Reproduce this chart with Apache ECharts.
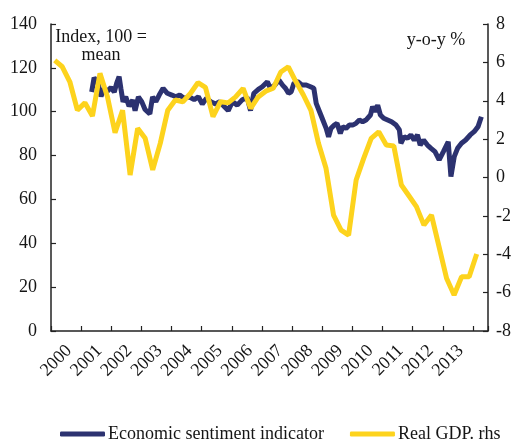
<!DOCTYPE html>
<html>
<head>
<meta charset="utf-8">
<script src="https://cdn.jsdelivr.net/npm/echarts@6/dist/echarts.min.js"></script>
<style>
  html, body { margin: 0; padding: 0; background: #fff; }
  #chart { width: 519px; height: 439px; }
</style>
</head>
<body>
<div id="chart"></div>
<script>
// Economic sentiment indicator (monthly), x in decimal years
const esiDates = [
  2001.35, 2001.43, 2001.55, 2001.66, 2001.76, 2001.88, 2001.99, 2002.10, 2002.18, 2002.26,
  2002.32, 2002.39, 2002.48, 2002.59, 2002.71, 2002.79, 2002.90, 2003.01, 2003.12, 2003.28,
  2003.37, 2003.48, 2003.59, 2003.72, 2003.86, 2004.01, 2004.14, 2004.27, 2004.41, 2004.58,
  2004.75, 2004.89, 2005.02, 2005.16, 2005.30, 2005.46, 2005.60, 2005.74, 2005.88, 2006.02,
  2006.18, 2006.35, 2006.51, 2006.62, 2006.73, 2006.88, 2007.01, 2007.18, 2007.28, 2007.43,
  2007.56, 2007.69, 2007.78, 2007.88, 2007.97, 2008.06, 2008.19, 2008.32, 2008.47, 2008.61,
  2008.72, 2008.80, 2008.91, 2009.02, 2009.13, 2009.21, 2009.29, 2009.40, 2009.49, 2009.60,
  2009.68, 2009.79, 2009.90, 2010.01, 2010.12, 2010.23, 2010.34, 2010.45, 2010.60, 2010.67,
  2010.75, 2010.84, 2010.93, 2011.04, 2011.17, 2011.30, 2011.45, 2011.56, 2011.61, 2011.72,
  2011.83, 2011.94, 2012.05, 2012.16, 2012.25, 2012.36, 2012.49, 2012.61, 2012.74, 2012.88,
  2013.02, 2013.18, 2013.27, 2013.38, 2013.49, 2013.62, 2013.76, 2013.91, 2014.04, 2014.17,
  2014.28
]
const esiValues = [
  109, 115.5, 113.5, 107, 110.5, 109.5, 111, 109, 113, 116,
  110.5, 104.5, 106.8, 102.5, 105.3, 100.5, 106.8, 104.6, 101, 99,
  106.8, 104.6, 107.6, 110.7, 108.4, 107.6, 106.8, 107.6, 106.1, 106.8,
  105.5, 106.8, 103.5, 106.1, 104.6, 103.5, 104.6, 102.5, 100.5, 104.6,
  103, 105.5, 106.5, 100.5, 108.4, 110.2, 111.4, 113.7, 110.7, 112.2,
  114.5, 112, 110.7, 108.4, 109.1, 113, 113.7, 112.2, 112.2, 111.4,
  110.7, 103.8, 100, 96.2, 92.4, 88.6, 92.4, 93.9, 94.7, 90.1,
  93.2, 92.4, 93.9, 93.9, 94.7, 96.2, 95.4, 96.2, 98.5, 102.3,
  100, 103, 98.5, 97, 96.2, 95.4, 93.9, 91.7, 85.6, 88.6,
  87.9, 89.4, 87.1, 89.4, 84.8, 87.1, 84.8, 83.3, 81.8, 78,
  81.8, 86.3, 70.4, 79.5, 83.3, 85.6, 87.1, 89.4, 90.9, 93.2,
  97.7
]

// Real GDP, y-o-y %, quarterly (right axis)
const gdpQuarters = [
  '2000 Q1', '2000 Q2', '2000 Q3', '2000 Q4', '2001 Q1', '2001 Q2', '2001 Q3', '2001 Q4',
  '2002 Q1', '2002 Q2', '2002 Q3', '2002 Q4', '2003 Q1', '2003 Q2', '2003 Q3', '2003 Q4',
  '2004 Q1', '2004 Q2', '2004 Q3', '2004 Q4', '2005 Q1', '2005 Q2', '2005 Q3', '2005 Q4',
  '2006 Q1', '2006 Q2', '2006 Q3', '2006 Q4', '2007 Q1', '2007 Q2', '2007 Q3', '2007 Q4',
  '2008 Q1', '2008 Q2', '2008 Q3', '2008 Q4', '2009 Q1', '2009 Q2', '2009 Q3', '2009 Q4',
  '2010 Q1', '2010 Q2', '2010 Q3', '2010 Q4', '2011 Q1', '2011 Q2', '2011 Q3', '2011 Q4',
  '2012 Q1', '2012 Q2', '2012 Q3', '2012 Q4', '2013 Q1', '2013 Q2', '2013 Q3', '2013 Q4',
  '2014 Q1'
]
const gdpValues = [
  6.1, 5.77, 4.99, 3.51, 3.89, 3.2, 5.43, 4.2,
  2.33, 3.5, 0.13, 2.56, 2.04, 0.4, 1.78, 3.51,
  4.04, 3.95, 4.38, 4.94, 4.7, 3.17, 3.95, 3.89,
  4.2, 4.65, 3.6, 4.2, 4.5, 4.65, 5.5, 5.77,
  5.0, 4.3, 3.5, 1.78, 0.48, -1.96, -2.74, -3.0,
  -0.13, 1.0, 2.04, 2.38, 1.69, 1.64, -0.39, -0.95,
  -1.52, -2.48, -1.96, -3.6, -5.25, -6.12, -5.17, -5.17,
  -3.99
]

const yearLabels = ['2000', '2001', '2002', '2003', '2004', '2005', '2006',
  '2007', '2008', '2009', '2010', '2011', '2012', '2013']

const navy = '#2c3270'
const yellow = '#fdd31d'
const font = 'Liberation Serif'
const ink = '#151515'
const labelShift = 0.6 // year labels sit a little right of their ticks

const quarterToYear = q => {
  const [y, n] = q.split(' Q')
  return +y + (n - 1) * 0.25 + 0.125
}

const chart = echarts.init(document.getElementById('chart'))

const axisLine = { show: true, lineStyle: { color: '#222', width: 1.5 } }
const axisTick = { show: true, inside: true, length: 5, lineStyle: { color: '#222', width: 1.2 } }

chart.setOption({
  animation: false,
  grid: { left: 51, right: 31, top: 24, bottom: 108 },
  xAxis: [
    {
      type: 'value',
      min: 2000,
      max: 2014.5,
      interval: 1,
      axisLine,
      axisTick,
      axisLabel: { show: false },
      splitLine: { show: false }
    },
    {
      type: 'value',
      position: 'bottom',
      min: 2000 - labelShift,
      max: 2014.5 - labelShift,
      interval: 0.2,
      axisLine: { show: false },
      axisTick: { show: false },
      splitLine: { show: false },
      axisLabel: {
        rotate: 45,
        margin: 17,
        fontFamily: font,
        fontSize: 18,
        color: ink,
        formatter: v => {
          const r = Math.round(v)
          return Math.abs(v - r) < 0.01 && yearLabels.includes(String(r)) ? String(r) : ''
        }
      }
    }
  ],
  yAxis: [
    {
      type: 'value',
      min: 0,
      max: 140,
      interval: 20,
      axisLine,
      axisTick,
      splitLine: { show: false },
      axisLabel: { margin: 14, fontFamily: font, fontSize: 18, color: ink }
    },
    {
      type: 'value',
      min: -8,
      max: 8,
      interval: 2,
      position: 'right',
      axisLine,
      axisTick,
      splitLine: { show: false },
      axisLabel: { margin: 8, fontFamily: font, fontSize: 18, color: ink }
    }
  ],
  legend: {
    left: 55,
    top: 420,
    itemWidth: 45,
    itemHeight: 5,
    itemGap: 26,
    icon: 'roundRect',
    textStyle: { fontFamily: font, fontSize: 18, color: ink, padding: [0, 0, 0, -2] },
    data: ['Economic sentiment indicator', 'Real GDP. rhs']
  },
  graphic: [
    {
      type: 'text',
      x: 101,
      y: 28,
      style: {
        text: 'Index, 100 =\nmean',
        font: '18px "Liberation Serif"',
        fill: ink,
        align: 'center',
        verticalAlign: 'top',
        lineHeight: 18
      }
    },
    {
      type: 'text',
      x: 436,
      y: 40,
      style: {
        text: 'y-o-y %',
        font: '18px "Liberation Serif"',
        fill: ink,
        align: 'center',
        verticalAlign: 'middle'
      }
    }
  ],
  series: [
    {
      name: 'Economic sentiment indicator',
      type: 'line',
      xAxisIndex: 0,
      yAxisIndex: 0,
      symbol: 'none',
      lineStyle: { color: navy, width: 5 },
      itemStyle: { color: navy },
      data: esiDates.map((d, i) => [d, esiValues[i]])
    },
    {
      name: 'Real GDP. rhs',
      type: 'line',
      xAxisIndex: 0,
      yAxisIndex: 1,
      symbol: 'none',
      lineStyle: { color: yellow, width: 5 },
      itemStyle: { color: yellow },
      data: gdpQuarters.map((q, i) => [quarterToYear(q), gdpValues[i]])
    }
  ]
})
</script>
</body>
</html>
